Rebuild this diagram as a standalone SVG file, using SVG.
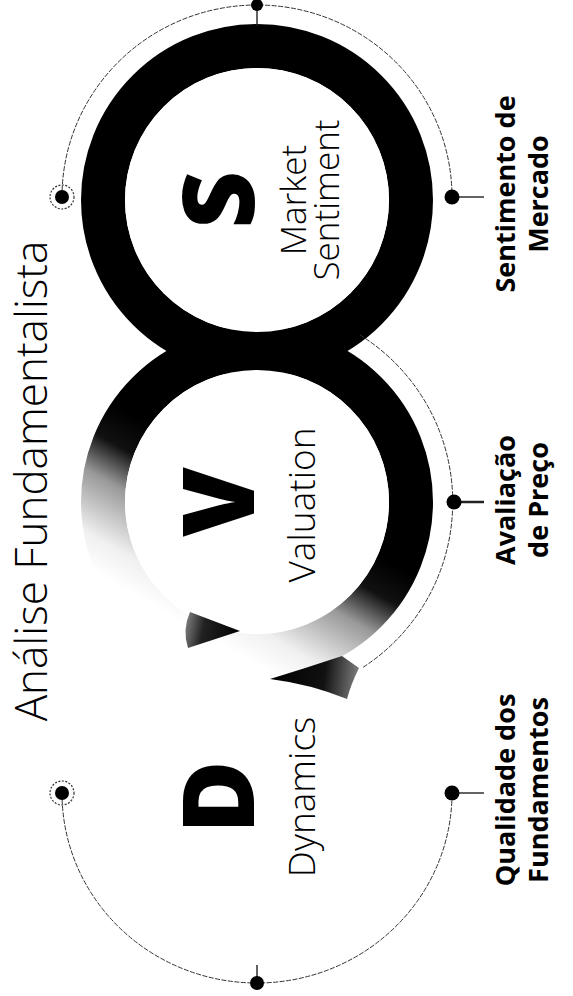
<svg xmlns="http://www.w3.org/2000/svg" width="573" height="996" viewBox="0 0 573 996">
<defs>
<style>
.light{font-family:"Open Sans","Liberation Sans",sans-serif;font-weight:300;fill:#000}
.big{font-family:"Open Sans","Liberation Sans",sans-serif;font-weight:800;font-size:100px;fill:#000}
.lbl{font-family:"Open Sans","Liberation Sans",sans-serif;font-weight:700;font-size:27px;fill:#000}
.arc{fill:none;stroke:#333;stroke-width:1;stroke-dasharray:5 1.5}
.tick{stroke:#222;stroke-width:1.4}
.dot{fill:#000}
.halo{fill:none;stroke:#333;stroke-width:1.2;stroke-dasharray:2 1.5}
</style>
<linearGradient id="gV" gradientUnits="userSpaceOnUse" x1="264" y1="490" x2="187" y2="625">
<stop offset="0" stop-color="#000"/>
<stop offset="0.22" stop-color="#111"/>
<stop offset="0.45" stop-color="#999"/>
<stop offset="0.8" stop-color="#f0f0f0"/>
<stop offset="1" stop-color="#fff"/>
</linearGradient>
<linearGradient id="gL" gradientUnits="userSpaceOnUse" x1="240" y1="631" x2="160" y2="615">
<stop offset="0" stop-color="#000"/>
<stop offset="0.45" stop-color="#222"/>
<stop offset="1" stop-color="#fff"/>
</linearGradient>
<linearGradient id="gR" gradientUnits="userSpaceOnUse" x1="272" y1="678" x2="366" y2="688">
<stop offset="0" stop-color="#000"/>
<stop offset="0.55" stop-color="#111"/>
<stop offset="1" stop-color="#999"/>
</linearGradient>
</defs>
<rect width="573" height="996" fill="#fff"/>

<g id="rings">
<circle cx="257" cy="200" r="154" fill="none" stroke="#000" stroke-width="44"/>
<circle cx="257" cy="502" r="154" fill="none" stroke="url(#gV)" stroke-width="44"/>
<circle cx="257" cy="200" r="132" fill="#fff"/>
<circle cx="257" cy="502" r="132" fill="#fff"/>
<path d="M240,631 L190,612 Q182,630 188,648 Z" fill="url(#gL)"/>
<path d="M270,679 Q306,668 342,656 L359,668 Q351,684 347,699 Q310,684 270,679 Z" fill="url(#gR)"/>
</g>

<g id="connectors">
<path class="arc" d="M62,197 A195,192 0 0 1 452,197"/>
<path class="arc" d="M360,335 A197,197 0 0 1 362,668"/>
<path class="arc" d="M62,793 A195,190 0 0 0 452,793"/>
<line class="tick" x1="257" y1="5" x2="257" y2="26"/>
<line class="tick" x1="257" y1="983" x2="257" y2="965"/>
<line class="tick" x1="452" y1="197" x2="484" y2="197"/>
<line class="tick" x1="454" y1="502" x2="484" y2="502" style="stroke-width:2.5"/>
<line class="tick" x1="452" y1="793" x2="484" y2="793"/>
</g>

<g id="markers">
<circle class="dot" cx="257" cy="5" r="6"/>
<circle class="dot" cx="257" cy="983" r="7"/>
<circle class="dot" cx="62" cy="197" r="7"/>
<circle class="halo" cx="62" cy="197" r="12"/>
<circle class="dot" cx="62" cy="793" r="7"/>
<circle class="halo" cx="62" cy="793" r="12"/>
<circle class="dot" cx="452" cy="197" r="7.5"/>
<circle class="dot" cx="454" cy="502" r="7.5"/>
<circle class="dot" cx="452" cy="793" r="7.5"/>
</g>

<g id="title">
<text class="light" font-size="44" text-anchor="middle" transform="translate(47,481) rotate(-90)">Análise Fundamentalista</text>
</g>

<g id="node-s">
<text class="big" text-anchor="middle" transform="translate(254,200) rotate(-90)">S</text>
<text class="light" font-size="35" text-anchor="middle" transform="translate(306,200) rotate(-90)">Market</text>
<text class="light" font-size="35" text-anchor="middle" transform="translate(339,200) rotate(-90)">Sentiment</text>
</g>

<g id="node-v">
<text class="big" text-anchor="middle" transform="translate(254,502) rotate(-90)">V</text>
<text class="light" font-size="37" text-anchor="middle" transform="translate(315,505) rotate(-90)">Valuation</text>
</g>

<g id="node-d">
<text class="big" text-anchor="middle" transform="translate(254,797) rotate(-90)">D</text>
<text class="light" font-size="37" text-anchor="middle" transform="translate(315,797) rotate(-90)">Dynamics</text>
</g>

<g id="label-s">
<text class="lbl" text-anchor="middle" transform="translate(515,194) rotate(-90)">Sentimento de</text>
<text class="lbl" text-anchor="middle" transform="translate(548,194) rotate(-90)">Mercado</text>
</g>
<g id="label-v">
<text class="lbl" text-anchor="middle" transform="translate(515,500) rotate(-90)">Avaliação</text>
<text class="lbl" text-anchor="middle" transform="translate(548,500) rotate(-90)">de Preço</text>
</g>
<g id="label-d">
<text class="lbl" text-anchor="middle" transform="translate(515,790) rotate(-90)">Qualidade dos</text>
<text class="lbl" text-anchor="middle" transform="translate(548,790) rotate(-90)">Fundamentos</text>
</g>
</svg>
